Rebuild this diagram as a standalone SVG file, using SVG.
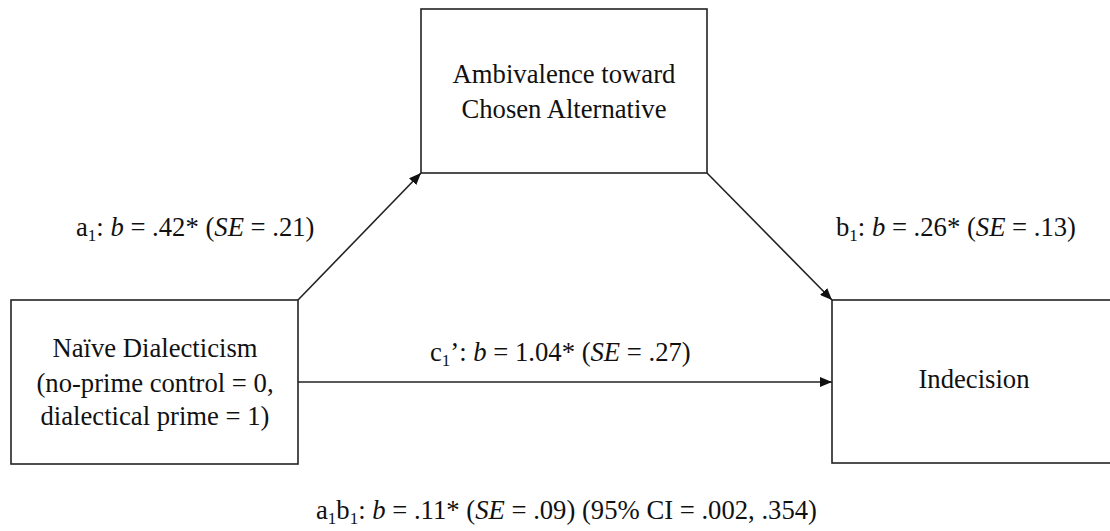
<svg xmlns="http://www.w3.org/2000/svg" width="1110" height="531" viewBox="0 0 1110 531">
<style>
  .box { fill: #fff; stroke: #222; stroke-width: 1.6; }
  .t { font-family: "Liberation Serif", "Times New Roman", serif; font-size: 26.67px; fill: #111; }
  .c { text-anchor: middle; }
  .sub { font-size: 17px; }
  .edge { stroke: #222; stroke-width: 1.6; fill: none; marker-end: url(#arr); }
</style>
<defs>
  <marker id="arr" viewBox="0 0 12 10" refX="12" refY="5" markerWidth="12" markerHeight="10" markerUnits="userSpaceOnUse" orient="auto">
    <path d="M0,0 L12,5 L0,10 Z" fill="#111"/>
  </marker>
</defs>
<rect width="1110" height="531" fill="#fff"/>
<g id="connectors">
  <line class="edge" x1="298" y1="300" x2="421" y2="173"/>
  <line class="edge" x1="707" y1="173" x2="832" y2="300"/>
  <line class="edge" x1="298" y1="382" x2="832" y2="382"/>
</g>
<g id="node-ambivalence">
  <rect class="box" x="421" y="9" width="286" height="164"/>
  <text class="t c" x="564" y="83">Ambivalence toward</text>
  <text class="t c" x="564" y="118">Chosen Alternative</text>
</g>
<g id="node-dialecticism">
  <rect class="box" x="11" y="300" width="287" height="164"/>
  <text class="t c" x="155" y="357">Naïve Dialecticism</text>
  <text class="t c" x="155" y="392">(no-prime control = 0,</text>
  <text class="t c" x="155" y="425">dialectical prime = 1)</text>
</g>
<g id="node-indecision">
  <rect class="box" x="832" y="300" width="290" height="163"/>
  <text class="t c" x="974" y="388">Indecision</text>
</g>
<g id="labels">
  <text class="t" x="76" y="236">a<tspan class="sub" dy="5">1</tspan><tspan dy="-5">: </tspan><tspan font-style="italic">b</tspan> = .42* (<tspan font-style="italic">SE</tspan> = .21)</text>
  <text class="t" x="836" y="236">b<tspan class="sub" dy="5">1</tspan><tspan dy="-5">: </tspan><tspan font-style="italic">b</tspan> = .26* (<tspan font-style="italic">SE</tspan> = .13)</text>
  <text class="t" x="430" y="361">c<tspan class="sub" dy="5">1</tspan><tspan dy="-5">’: </tspan><tspan font-style="italic">b</tspan> = 1.04* (<tspan font-style="italic">SE</tspan> = .27)</text>
  <text class="t" x="316" y="519">a<tspan class="sub" dy="5">1</tspan><tspan dy="-5">b</tspan><tspan class="sub" dy="5">1</tspan><tspan dy="-5">: </tspan><tspan font-style="italic">b</tspan> = .11* (<tspan font-style="italic">SE</tspan> = .09) (95% CI = .002, .354)</text>
</g>
</svg>
